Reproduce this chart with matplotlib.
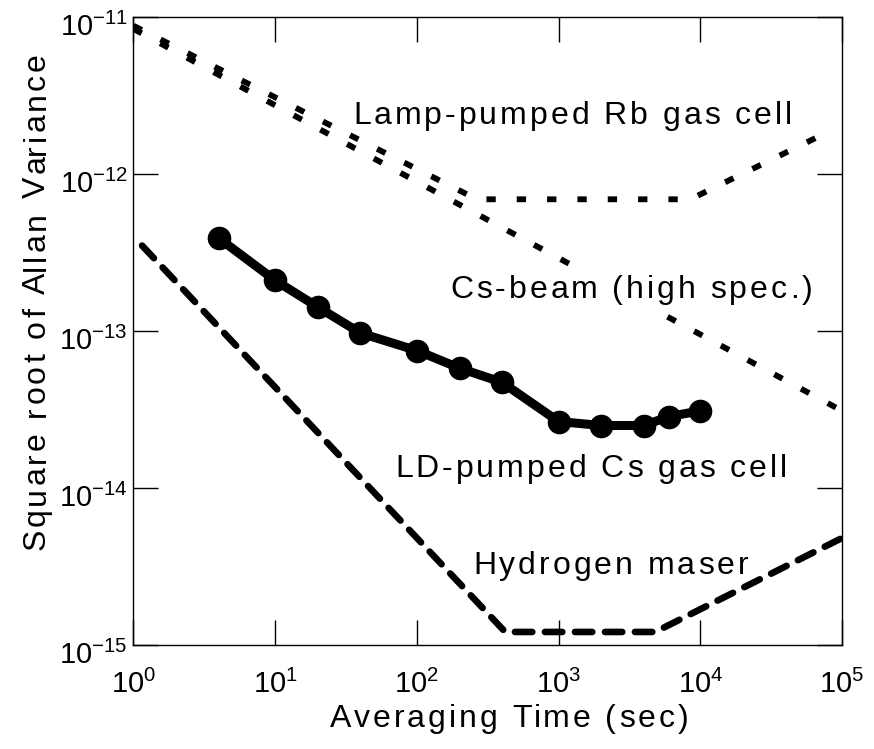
import matplotlib.pyplot as plt
from matplotlib.font_manager import FontProperties
from matplotlib.patches import Rectangle
from matplotlib.textpath import TextToPath
from matplotlib.transforms import ScaledTranslation

plt.rcParams['font.family'] = ['Liberation Sans', 'DejaVu Sans']
plt.rcParams['mathtext.fontset'] = 'custom'
plt.rcParams['mathtext.rm'] = 'Liberation Sans'
plt.rcParams['mathtext.it'] = 'Liberation Sans'
plt.rcParams['mathtext.default'] = 'regular'

# averaging time (s) and root Allan variance for each clock
rb_tau = [1, 265, 8500, 70000]
rb_sigma = [8.8e-12, 6.9e-13, 6.9e-13, 1.75e-12]

cs_tau = [1, 100000]
cs_sigma = [8.4e-12, 3.1e-14]

h_tau = [1.15, 420, 4800, 100000]
h_sigma = [3.5e-13, 1.21e-15, 1.21e-15, 4.8e-15]

ld_tau = [4, 10, 20, 40, 100, 200, 400, 1000, 2000, 4000, 6000, 10000]
ld_sigma = [3.9e-13, 2.1e-13, 1.42e-13, 9.7e-14, 7.5e-14, 5.8e-14, 4.7e-14,
            2.65e-14, 2.5e-14, 2.5e-14, 2.85e-14, 3.1e-14]

xticks = [1, 10, 100, 1000, 10000, 100000]
xticklabels = ['$10^{0}$', '$10^{1}$', '$10^{2}$', '$10^{3}$', '$10^{4}$', '$10^{5}$']
yticks = [1e-15, 1e-14, 1e-13, 1e-12, 1e-11]
yticklabels = ['$10^{-15}$', '$10^{-14}$', '$10^{-13}$', '$10^{-12}$', '$10^{-11}$']

W, H, DPI = 874, 749, 100
fig = plt.figure(figsize=(W / DPI, H / DPI), dpi=DPI)
ax = fig.add_axes([0.1527, 0.1389, 0.8107, 0.8384])

ttp = TextToPath()


def width_px(s, prop):
    w, h, d = ttp.get_text_width_height_descent(s, prop, ismath=False)
    return w * DPI / 72.0


def spaced_text(x, y, s, size=23, track=3.0, vertical=False, zorder=5):
    # letter-spaced text; x, y = start of baseline in image pixels (y down)
    prop = FontProperties(family='Liberation Sans', size=size)
    bar = width_px('|', prop)
    for i, ch in enumerate(s):
        if ch == ' ':
            continue
        off = (width_px(s[:i] + '|', prop) - bar if i else 0.0) + i * track
        if vertical:
            px, py, rot = x, y - off, 90
        else:
            px, py, rot = x + off, y, 0
        fig.text(px / W, 1 - py / H, ch, fontproperties=prop, ha='left',
                 va='baseline', rotation=rot, rotation_mode='anchor',
                 zorder=zorder)


ax.plot(rb_tau, rb_sigma, color='black', lw=4.2, dashes=(1.6, 3.6),
        dash_capstyle='butt', zorder=2)
ax.plot(cs_tau, cs_sigma, color='black', lw=4.2, dashes=(1.6, 3.6),
        dash_capstyle='butt', zorder=2)
ax.plot(h_tau, h_sigma, color='black', lw=4.8, dashes=(2.6, 1.9),
        dash_capstyle='round', zorder=2)
ax.plot(ld_tau, ld_sigma, color='black', lw=6.5, marker='o', markersize=16,
        zorder=3)

ax.set_xscale('log')
ax.set_yscale('log')
ax.set_xlim(1, 1e5)
ax.set_ylim(1e-15, 1e-11)
ax.set_xticks(xticks)
ax.set_xticklabels(xticklabels)
ax.set_yticks(yticks)
ax.set_yticklabels(yticklabels)
ax.minorticks_off()
ax.tick_params(which='major', direction='in', length=18, width=1,
               top=True, right=True, labelsize=21)
ax.tick_params(axis='x', pad=18)
ax.tick_params(axis='y', pad=4)
for lab in ax.get_yticklabels():
    lab.set_transform(lab.get_transform()
                      + ScaledTranslation(0, -7 / DPI, fig.dpi_scale_trans))
for s in ax.spines.values():
    s.set_linewidth(1)

# white patch behind the Cs-beam label (the curve runs under it)
ax.add_patch(Rectangle(((446 - 133.5) / 708.5, (645 - 311) / 628),
                       370 / 708.5, 45 / 628, transform=ax.transAxes,
                       facecolor='white', edgecolor='none', zorder=4))

spaced_text(353, 124, 'Lamp-pumped Rb gas cell')
spaced_text(450, 298, 'Cs-beam (high spec.)')
spaced_text(395, 477, 'LD-pumped Cs gas cell')
spaced_text(473, 574, 'Hydrogen maser')

spaced_text(330, 727, 'Averaging Time (sec)')
spaced_text(45, 550, 'Square root of Allan Variance', vertical=True)

fig.savefig('out.png', dpi=DPI)
